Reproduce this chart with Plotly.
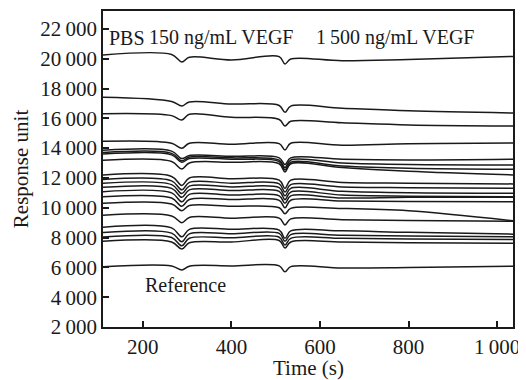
import plotly.graph_objects as go

# time grid (s) at which the curves were read
time_s = [110, 265, 288, 305, 400, 508, 521, 534, 650, 800, 1036]

# response units of each sensorgram, top to bottom
s01 = [20250, 20280, 19780, 20100, 19920, 20140, 19650, 19980, 19860, 19950, 20150]
s02 = [17410, 17130, 16830, 17100, 16960, 16860, 16400, 16820, 16680, 16500, 16350]
s03 = [16310, 16180, 15890, 16270, 16070, 15920, 15490, 15800, 15700, 15560, 15490]
s04 = [14460, 14330, 13990, 14330, 14260, 14300, 13880, 14330, 14200, 14300, 14350]
s05 = [13850, 13800, 13300, 13500, 13450, 13350, 12900, 13350, 13250, 13200, 13250]
s06 = [13700, 13650, 13150, 13400, 13350, 13200, 12700, 13200, 13000, 12900, 12870]
s07 = [13600, 13550, 13050, 13300, 13250, 13100, 12550, 13050, 12800, 12650, 12580]
s08 = [13180, 13100, 12600, 13000, 13050, 12950, 12400, 12950, 12700, 12450, 12200]
s09 = [12200, 12100, 11500, 12000, 11950, 11850, 11300, 11850, 11700, 11650, 11600]
s10 = [11900, 11800, 11200, 11700, 11650, 11600, 11050, 11550, 11400, 11350, 11310]
s11 = [11640, 11550, 10950, 11450, 11400, 11350, 10800, 11300, 11100, 11000, 10970]
s12 = [11370, 11300, 10700, 11200, 11150, 11100, 10550, 11050, 10850, 10780, 10740]
s13 = [11080, 11000, 10400, 10900, 10850, 10800, 10300, 10800, 10650, 10700, 10700]
s14 = [10740, 10650, 10100, 10550, 10550, 10500, 10000, 10500, 10450, 10420, 10410]
s15 = [10300, 10250, 9800, 10150, 10100, 10000, 9600, 9960, 9950, 9800, 9130]
s16 = [9500, 9450, 9000, 9350, 9300, 9300, 8850, 9250, 9200, 9150, 9100]
s17 = [8700, 8650, 8050, 8550, 8550, 8500, 7950, 8450, 8450, 8350, 8230]
s18 = [8340, 8300, 7720, 8250, 8250, 8280, 7750, 8200, 8150, 8100, 8060]
s19 = [8040, 8000, 7450, 7950, 7980, 8020, 7500, 7950, 7950, 7900, 7870]
s20 = [7750, 7700, 7230, 7650, 7700, 7800, 7300, 7700, 7700, 7650, 7620]
reference = [6050, 6100, 5830, 6080, 6100, 6100, 5700, 6050, 5960, 5990, 6080]

series = [s01, s02, s03, s04, s05, s06, s07, s08, s09, s10, s11, s12, s13, s14,
          s15, s16, s17, s18, s19, s20, reference]

x_ticks = [200, 400, 600, 800, 1000]
x_labels = ["200", "400", "600", "800", "1\u2009000"]
y_ticks = [2000, 4000, 6000, 8000, 10000, 12000, 14000, 16000, 18000, 20000, 22000]
y_labels = ["2\u2009000", "4\u2009000", "6\u2009000", "8\u2009000", "10\u2009000", "12\u2009000",
            "14\u2009000", "16\u2009000", "18\u2009000", "20\u2009000", "22\u2009000"]
x_title = "Time (s)"
y_title = "Response unit"

FONT = "Liberation Serif"
INK = "#1a1a1a"

fig = go.Figure()
for s in series:
    fig.add_trace(go.Scatter(x=time_s, y=s, mode="lines",
                             line=dict(color=INK, width=1.5, shape="spline", smoothing=1.0),
                             showlegend=False, hoverinfo="skip"))

labels = [
    ("PBS", 118, 21400),
    ("150 ng/mL VEGF", 209, 21400),
    ("1\u2009500 ng/mL VEGF", 587, 21400),
    ("Reference", 200, 4850),
]
for text, xv, yv in labels:
    fig.add_annotation(x=xv, y=yv, xref="x", yref="y", text=text, showarrow=False,
                       xanchor="left", yanchor="middle",
                       font=dict(family=FONT, size=20, color=INK))

# x-axis title placed as paper annotation for exact vertical placement
fig.add_annotation(x=0.5, y=-0.131, xref="paper", yref="paper", text=x_title,
                   showarrow=False, xanchor="center", yanchor="middle",
                   font=dict(family=FONT, size=21, color=INK))

axis_common = dict(showgrid=False, zeroline=False, showline=True, linecolor=INK,
                   linewidth=1.5, mirror=True, ticks="inside", ticklen=6, tickwidth=1.5,
                   tickcolor=INK, automargin=False,
                   tickfont=dict(family=FONT, size=21, color=INK))

fig.update_xaxes(range=[110, 1036], tickvals=x_ticks, ticktext=x_labels, **axis_common)
fig.update_yaxes(range=[2000, 23200], tickvals=y_ticks, ticktext=y_labels,
                 title=dict(text=y_title, font=dict(family=FONT, size=21, color=INK),
                            standoff=6),
                 **axis_common)

# the page body has an 8px margin, so the figure is sized/offset to compensate
fig.update_layout(width=518, height=372, margin=dict(l=95, r=13, t=3, b=53),
                  plot_bgcolor="white", paper_bgcolor="white")

fig.write_html("out.html")
